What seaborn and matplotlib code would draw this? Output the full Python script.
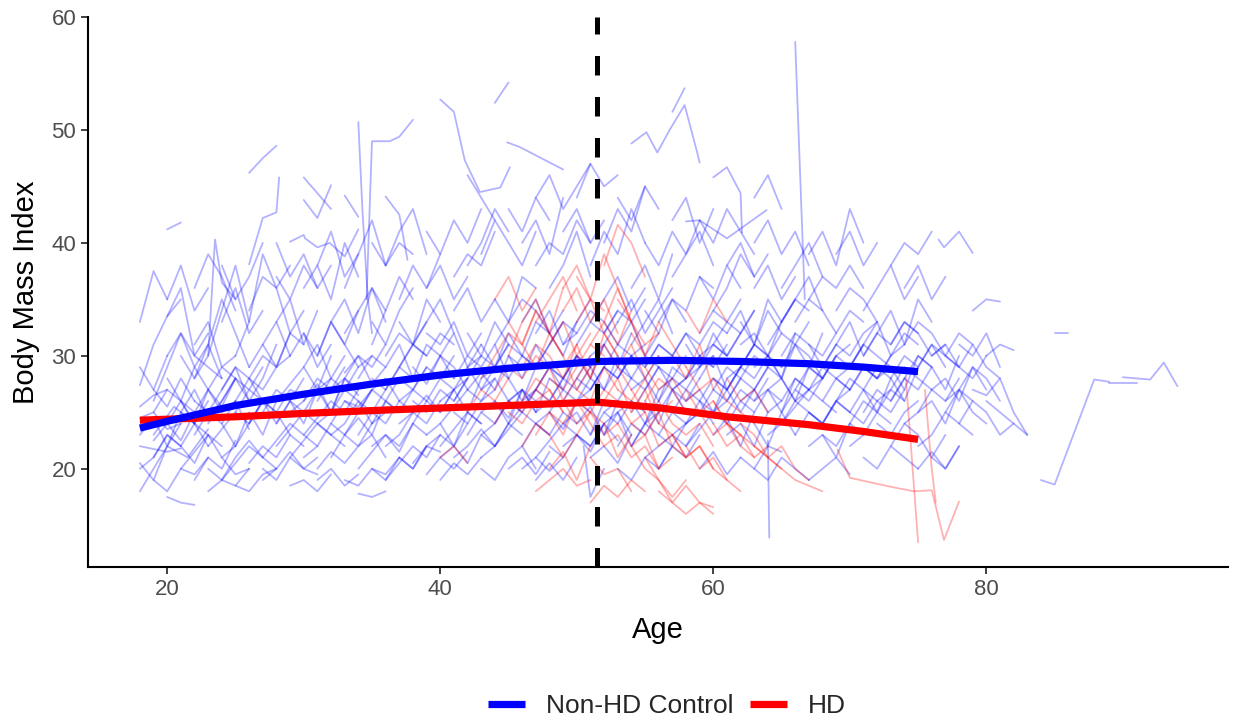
import matplotlib
matplotlib.use("Agg")
import matplotlib.pyplot as plt
from matplotlib.lines import Line2D
import seaborn as sns
import pandas as pd

# ---------------- data ----------------
# each control trajectory: (ages, BMI values)
control_trajectories = [
    ([18, 19, 20, 21], [27.4, 31, 33.5, 35]),
    ([18, 19.5, 21], [18, 21, 24]),
    ([18, 19, 20, 21.5, 23], [20.5, 19, 22, 21, 23.5]),
    ([18, 19, 20, 21], [24.5, 25, 23.5, 24]),
    ([18, 20, 21], [22, 21.5, 21.8]),
    ([19, 20, 21, 22, 24], [26, 29, 32, 30, 28]),
    ([19, 20.5, 22, 23], [23, 25.5, 24, 22]),
    ([20, 21, 22], [17.5, 17, 16.8]),
    ([20, 21, 22, 23], [33.5, 36, 30, 32]),
    ([21, 22, 23, 24, 25], [25, 27, 24.5, 26, 28]),
    ([22, 23, 24, 25], [19, 21, 20, 22.5]),
    ([22, 23, 24, 25, 26], [28, 30, 34, 38, 33]),
    ([23, 23.5, 24, 25], [30, 40.3, 36.5, 35]),
    ([23, 24, 25, 26, 27], [22, 23.5, 25, 24, 26]),
    ([24, 25, 26, 27, 28], [27, 29, 26, 28, 31]),
    ([24, 25, 26], [21, 19.5, 20]),
    ([25, 26, 27, 28, 29], [30, 33, 39, 36, 32]),
    ([25, 26, 27, 28], [18.5, 18, 19.5, 20]),
    ([26, 27, 28], [46.2, 47.5, 48.6]),
    ([26, 27, 28, 28.2], [38.1, 42.2, 42.7, 45.8]),
    ([26, 27, 28, 29, 30], [24, 26, 25, 27, 26.5]),
    ([27, 28, 29, 30, 31], [21, 22.5, 24, 23, 22]),
    ([28, 29, 30, 31], [33, 35, 31, 34]),
    ([28, 29, 30, 31, 32], [26, 27.5, 29, 27, 30]),
    ([29, 30, 31, 32], [18.5, 19, 18, 19.5]),
    ([29, 30, 30.1, 31, 31.9, 33, 34], [40.1, 40.7, 40.4, 39.6, 40, 38.8, 41.2]),
    ([20, 21], [41.2, 41.8]),
    ([19, 20, 21, 22], [22.5, 24, 26, 25]),
    ([21, 22, 23, 24, 25, 26], [30, 28, 31, 35, 32, 29]),
    ([18, 19, 20], [25.5, 26.5, 27]),
    ([30, 31, 32], [45.8, 44.4, 43]),
    ([30, 31, 32], [43.8, 42.2, 45.1]),
    ([33, 34], [44.2, 42.3]),
    ([34, 34.3, 34.7, 35], [50.7, 42.9, 35, 32]),
    ([34.6, 35, 36.3, 37, 38], [35, 49, 49, 49.4, 50.9]),
    ([36, 37, 37.6], [44.1, 42.5, 38.5]),
    ([30, 31, 32, 33, 34], [23, 24.5, 26, 25, 27]),
    ([30, 31, 32, 33], [29, 31, 28, 30]),
    ([31, 32, 33, 34, 35, 36], [20, 21.5, 20.5, 22, 23, 21]),
    ([31, 32, 33, 34], [27, 25, 28, 26.5]),
    ([32, 33, 34, 35, 36], [33, 35, 32, 36, 34]),
    ([32, 33, 34, 35], [24, 26, 25.5, 27]),
    ([33, 34, 35, 36, 37], [19, 18.5, 20, 19.5, 21]),
    ([33, 34, 35, 36], [28.5, 30, 27.5, 29]),
    ([34, 35, 36, 37, 38, 39], [25, 27, 26, 28, 27, 29]),
    ([35, 36, 37, 38], [31, 34, 37, 35]),
    ([35, 36, 37, 38, 39], [22, 23, 21.5, 24, 23]),
    ([36, 37, 38, 39, 40], [27, 29, 28, 31, 30]),
    ([36, 37, 38], [38, 40, 39]),
    ([37, 38, 39, 40, 41], [24, 25, 26.5, 25, 27]),
    ([37, 38, 39, 40], [33, 31, 35, 33]),
    ([38, 39, 40, 41, 42], [20.5, 22, 23, 22, 24]),
    ([38, 39, 40, 41], [29, 27.5, 30, 28]),
    ([39, 40, 41, 42, 43], [26, 28, 27, 29, 30]),
    ([39, 40, 41, 42], [36, 38, 35, 37]),
    ([34, 35, 36], [17.8, 17.5, 18]),
    ([30, 31, 32, 33, 34], [36, 38, 35, 40, 37]),
    ([40, 41, 41.8, 42.9, 44.4, 45.1], [52.7, 51.6, 47.3, 44.5, 44.9, 46.7]),
    ([44, 45], [52.4, 54.2]),
    ([44.9, 45.8, 49], [48.9, 48.5, 46.5]),
    ([40, 41, 42, 43, 44], [24, 25.5, 27, 26, 28]),
    ([40, 41, 42, 43], [30, 32, 29, 31]),
    ([41, 42, 43, 44, 45], [21, 22, 23.5, 22, 24]),
    ([41, 42, 43, 44], [34, 36, 33, 35]),
    ([42, 43, 44, 45, 46], [27, 28.5, 27, 30, 29]),
    ([42, 43, 44, 45], [38, 40, 43, 41]),
    ([43, 44, 45, 46, 47], [25, 26, 24.5, 27, 26]),
    ([43, 44, 45, 46], [31, 29, 32, 30]),
    ([44, 45, 46, 47, 48], [22, 23.5, 25, 24, 23]),
    ([44, 45, 46, 47], [35, 33, 37, 36]),
    ([45, 46, 47, 48, 49], [28, 30, 29, 31, 33]),
    ([45, 46, 47, 48], [20, 21, 19.5, 21.5]),
    ([46, 47, 48, 49, 50], [26, 27, 29, 28, 30]),
    ([46, 47, 48, 49], [40, 42, 39, 44]),
    ([47, 48, 49, 50, 51], [24, 25, 23.5, 26, 25]),
    ([47, 48, 49, 50], [32, 34, 31, 33]),
    ([48, 49, 50, 51, 52], [29, 27, 30, 28, 31]),
    ([48, 49, 50, 51], [36, 38, 41, 37]),
    ([49, 50, 51, 52, 53], [22, 23, 21.5, 24, 22.5]),
    ([49, 50, 51, 52], [26, 28, 27, 29]),
    ([40, 41, 42, 43], [19, 20.5, 19.5, 21]),
    ([42, 43, 44], [46, 44, 42]),
    ([46, 47, 48, 49], [20, 21, 19.8, 21]),
    ([47, 48, 49, 50, 51], [44, 46, 43, 45, 47]),
    ([54, 55.1, 55.9, 56.8, 57.9, 58.8, 59], [48.8, 49.8, 48, 50, 52.2, 48.1, 47.1]),
    ([57, 57.9], [51.6, 53.7]),
    ([50, 51, 52, 53, 54], [28, 30, 31, 29, 32]),
    ([50, 51, 52, 53], [24, 25.5, 23, 26]),
    ([51, 52, 53, 54, 55], [33, 35, 37, 34, 36]),
    ([51, 52, 53, 54], [21, 22, 20.5, 23]),
    ([52, 53, 54, 55, 56], [27, 29, 28, 30, 29]),
    ([52, 53, 54, 55], [40, 43, 41, 45]),
    ([53, 54, 55, 56, 57], [25, 26, 24, 27, 28]),
    ([53, 54, 55, 56], [31, 33, 30, 32]),
    ([54, 55, 56, 57, 58], [22, 24, 23, 25, 24]),
    ([54, 55, 56, 57], [36, 38, 35, 39]),
    ([55, 56, 57, 58, 59], [29, 31, 30, 32, 30]),
    ([55, 56, 57, 58], [26, 24, 27, 25]),
    ([56, 57, 58, 59, 60], [33, 35, 34, 37, 36]),
    ([56, 57, 58, 59], [20, 22, 21, 23]),
    ([57, 58, 59, 60, 61], [27, 28, 30, 29, 31]),
    ([57, 58, 59, 60], [42, 44, 40, 43]),
    ([58, 59, 60, 61, 62], [24, 25, 27, 26, 28]),
    ([58, 59, 60, 61], [31, 29, 32, 30]),
    ([59, 60, 61, 62, 63], [28, 30, 27, 29, 31]),
    ([59, 60, 61, 62], [37, 35, 38, 36]),
    ([50, 51, 52, 53], [44, 47, 45, 46]),
    ([50.5, 51, 52], [22, 17.5, 20]),
    ([52, 53, 54, 55, 56], [23, 25, 22, 24, 26]),
    ([60, 61, 62, 62.1], [45.8, 46.7, 44.4, 40.9]),
    ([58, 59, 61, 63.9], [41.9, 42, 40.4, 42.9]),
    ([66, 66.7], [57.8, 35]),
    ([64, 64.1], [22.5, 13.9]),
    ([60, 61, 62, 63, 64], [27, 29, 28, 30, 29]),
    ([60, 61, 62, 63], [23, 24.5, 22, 25]),
    ([61, 62, 63, 64, 65], [32, 34, 31, 35, 33]),
    ([61, 62, 63, 64], [25, 27, 26, 28]),
    ([62, 63, 64, 65, 66], [29, 31, 30, 28, 32]),
    ([62, 63, 64, 65], [21, 20, 22, 21.5]),
    ([63, 64, 65, 66, 67], [26, 27, 25, 28, 27]),
    ([63, 64, 65, 66], [36, 38, 35, 37]),
    ([64, 65, 66, 67, 68], [30, 28, 31, 29, 32]),
    ([65, 66, 67, 68, 69], [24, 25.5, 27, 26, 25]),
    ([65, 66, 67, 68], [33, 35, 37, 34]),
    ([66, 67, 68, 69, 70], [27, 29, 28, 30, 31]),
    ([67, 68, 69, 70], [22, 23, 21, 24]),
    ([67, 68, 69, 70, 71], [39, 41, 38, 43, 40]),
    ([68, 69, 70, 71, 72], [26, 28, 27, 29, 28]),
    ([69, 70, 71, 72], [31, 33, 30, 32]),
    ([60, 61, 62, 63], [34, 36, 39, 37]),
    ([63, 64, 65], [44, 46, 43]),
    ([70, 71, 72, 73, 74], [24, 26, 25, 27, 26]),
    ([70, 71, 72, 73], [29, 31, 33, 30]),
    ([71, 72, 73, 74, 75], [27, 25, 28, 26, 29]),
    ([72, 73, 74, 75, 76], [32, 34, 31, 35, 33]),
    ([73, 74, 75, 76, 77], [22, 24, 23, 21, 23]),
    ([74, 75, 76, 77, 78], [28, 30, 29, 27, 30]),
    ([75, 76, 77, 78, 79], [25, 26, 24, 27, 26]),
    ([76.5, 76.9, 78, 79], [40.3, 39.6, 41, 39.1]),
    ([77, 78, 79, 80, 81], [30, 29, 31, 29, 28]),
    ([78, 79, 80, 81, 82], [24, 26, 25, 23, 24]),
    ([79, 80, 81], [34, 35, 34.8]),
    ([79, 80, 81, 82, 83], [27, 26.5, 28, 25, 23]),
    ([76, 77, 78], [21, 20, 22]),
    ([85, 86], [32, 32]),
    ([84, 85, 87.9, 89], [19, 18.6, 27.9, 27.7]),
    ([89, 91], [27.6, 27.6]),
    ([90, 92, 93, 94], [28.1, 27.9, 29.4, 27.3]),
    ([80, 81, 82], [30, 31, 30.5]),
    ([74, 75, 76, 77], [36, 38, 35, 37]),
    # dense core
    ([18, 19, 20, 21, 22], [23, 24.5, 22, 25, 24]),
    ([18, 19, 20], [29, 27, 30]),
    ([19, 20, 21, 22, 23], [21, 23, 22, 20.5, 23]),
    ([19, 20, 21, 22], [27, 25.5, 28, 26]),
    ([20, 21, 22, 23, 24, 25], [24, 22.5, 25, 27, 25, 26]),
    ([20, 21, 22, 23], [30, 32, 29, 27]),
    ([21, 22, 23, 24], [20, 21.5, 23, 22]),
    ([21, 22, 23, 24, 25], [26, 24, 27, 25.5, 28]),
    ([22, 23, 24, 25, 26], [23, 25, 24, 26, 23.5]),
    ([22, 23, 24, 25], [31, 33, 29, 30]),
    ([23, 24, 25, 26, 27], [20, 19, 21, 22.5, 21]),
    ([23, 24, 25, 26], [27, 29, 28, 26]),
    ([24, 25, 26, 27, 28], [24, 22, 25, 23, 26]),
    ([24, 25, 26, 27], [33, 36, 32, 34]),
    ([25, 26, 27, 28, 29], [22, 24, 26, 25, 23]),
    ([25, 26, 27, 28, 29], [26, 28, 27, 29, 30]),
    ([26, 27, 28, 29], [29, 31, 33, 30]),
    ([26, 27, 28, 29, 30], [20.5, 22, 21, 23, 22]),
    ([27, 28, 29, 30, 31], [25, 27, 26, 24, 27]),
    ([27, 28, 29, 30], [31, 29, 32, 34]),
    ([28, 29, 30, 31, 32], [22, 23.5, 25, 24, 23]),
    ([28, 29, 30, 31], [37, 35, 38, 36]),
    ([29, 30, 31, 32, 33], [25, 26, 28, 27, 29]),
    ([29, 30, 31, 32], [30, 32, 29, 31]),
    ([30, 31, 32, 33, 34], [21, 22, 24, 23, 25]),
    ([30, 31, 32, 33, 34], [26, 27.5, 25, 28, 27]),
    ([31, 32, 33, 34, 35], [24, 25, 27, 26, 24]),
    ([31, 32, 33, 34], [30, 33, 31, 29]),
    ([32, 33, 34, 35, 36], [21, 23, 22, 24, 25]),
    ([32, 33, 34, 35, 36], [27, 28, 30, 29, 31]),
    ([33, 34, 35, 36, 37], [23, 24.5, 23, 26, 25]),
    ([33, 34, 35, 36], [32, 34, 36, 33]),
    ([34, 35, 36, 37, 38], [20, 21.5, 23, 22, 24]),
    ([34, 35, 36, 37, 38], [28, 30, 29, 31, 28]),
    ([35, 36, 37, 38, 39], [24, 26, 25, 27, 26]),
    ([35, 36, 37, 38], [33, 31, 34, 36]),
    ([36, 37, 38, 39, 40], [22, 23, 25, 24, 26]),
    ([36, 37, 38, 39], [30, 32, 31, 33]),
    ([37, 38, 39, 40, 41], [26, 27, 29, 28, 30]),
    ([37, 38, 39, 40], [21, 20, 22, 21.5]),
    ([38, 39, 40, 41, 42], [24, 26, 25, 27, 28]),
    ([38, 39, 40, 41], [31, 33, 35, 32]),
    ([39, 40, 41, 42, 43], [23, 24, 22, 25, 24]),
    ([39, 40, 41, 42], [28, 30, 29, 27]),
    ([40, 41, 42, 43, 44], [26, 27, 25, 28, 29]),
    ([40, 41, 42, 43], [22, 23.5, 25, 24]),
    ([41, 42, 43, 44, 45], [28, 30, 29, 31, 28]),
    ([41, 42, 43, 44], [25, 24, 26, 27]),
    ([42, 43, 44, 45, 46], [23, 25, 24, 26, 25]),
    ([42, 43, 44, 45], [32, 30, 33, 31]),
    ([43, 44, 45, 46, 47], [27, 29, 28, 26, 29]),
    ([43, 44, 45, 46], [21, 22, 24, 23]),
    ([44, 45, 46, 47, 48], [29, 31, 30, 33, 32]),
    ([44, 45, 46, 47], [26, 24, 27, 25]),
    ([45, 46, 47, 48, 49], [24, 25.5, 27, 26, 28]),
    ([45, 46, 47, 48], [30, 28, 31, 29]),
    ([46, 47, 48, 49, 50], [22, 24, 23, 25, 24]),
    ([46, 47, 48, 49], [33, 35, 32, 34]),
    ([47, 48, 49, 50, 51], [27, 29, 28, 30, 29]),
    ([47, 48, 49, 50], [21, 22.5, 24, 23]),
    ([48, 49, 50, 51, 52], [25, 27, 26, 28, 27]),
    ([48, 49, 50, 51], [32, 30, 33, 35]),
    ([49, 50, 51, 52, 53], [28, 30, 29, 31, 33]),
    ([49, 50, 51, 52], [24, 25, 23, 26]),
    ([50, 51, 52, 53, 54], [26, 27, 29, 28, 30]),
    ([50, 51, 52, 53], [31, 33, 32, 34]),
    ([51, 52, 53, 54, 55], [23, 25, 24, 26, 25]),
    ([51, 52, 53, 54], [29, 27, 30, 28]),
    ([52, 53, 54, 55, 56], [25, 26, 28, 27, 29]),
    ([52, 53, 54, 55], [32, 34, 33, 35]),
    ([53, 54, 55, 56, 57], [28, 30, 29, 31, 30]),
    ([53, 54, 55, 56], [22, 24, 23, 25]),
    ([54, 55, 56, 57, 58], [27, 28, 26, 29, 28]),
    ([54, 55, 56, 57], [31, 33, 35, 32]),
    ([55, 56, 57, 58, 59], [24, 25, 27, 26, 28]),
    ([55, 56, 57, 58], [34, 32, 35, 33]),
    ([56, 57, 58, 59, 60], [26, 28, 27, 29, 30]),
    ([56, 57, 58, 59], [23, 22, 24, 25]),
    ([57, 58, 59, 60, 61], [30, 32, 31, 33, 32]),
    ([57, 58, 59, 60], [25, 27, 26, 24]),
    ([58, 59, 60, 61, 62], [28, 29, 31, 30, 32]),
    ([58, 59, 60, 61], [22, 23.5, 25, 24]),
    ([59, 60, 61, 62, 63], [26, 28, 27, 25, 27]),
    ([59, 60, 61, 62], [32, 34, 33, 35]),
    ([60, 61, 62, 63, 64], [25, 26, 28, 27, 29]),
    ([60, 61, 62, 63], [31, 30, 32, 34]),
    ([61, 62, 63, 64, 65], [27, 29, 28, 30, 29]),
    ([61, 62, 63, 64], [23, 24, 22, 25]),
    ([62, 63, 64, 65, 66], [26, 27, 29, 28, 26]),
    ([62, 63, 64, 65], [33, 31, 34, 32]),
    ([63, 64, 65, 66, 67], [29, 30, 32, 31, 33]),
    ([63, 64, 65, 66], [24, 22, 25, 23]),
    ([64, 65, 66, 67, 68], [27, 28, 26, 29, 28]),
    ([64, 65, 66, 67], [31, 33, 35, 34]),
    ([65, 66, 67, 68, 69], [25, 27, 26, 28, 30]),
    ([65, 66, 67, 68], [29, 31, 30, 28]),
    ([66, 67, 68, 69, 70], [23, 25, 24, 26, 25]),
    ([66, 67, 68, 69], [33, 35, 34, 32]),
    ([67, 68, 69, 70, 71], [27, 28, 30, 29, 31]),
    ([67, 68, 69, 70], [25, 24, 26, 27]),
    ([68, 69, 70, 71, 72], [29, 31, 30, 32, 33]),
    ([68, 69, 70, 71], [23, 22, 24, 23]),
    ([69, 70, 71, 72, 73], [26, 28, 27, 29, 28]),
    ([69, 70, 71, 72], [34, 36, 35, 33]),
    ([70, 71, 72, 73, 74], [27, 29, 28, 30, 31]),
    ([70, 71, 72, 73], [22, 23, 25, 24]),
    ([71, 72, 73, 74, 75], [30, 32, 31, 33, 32]),
    ([71, 72, 73, 74], [25, 27, 26, 28]),
    ([72, 73, 74, 75, 76], [28, 29, 27, 30, 29]),
    ([72, 73, 74, 75], [24, 23, 25, 26]),
    ([73, 74, 75, 76, 77], [31, 33, 32, 30, 31]),
    ([73, 74, 75, 76], [26, 28, 27, 29]),
    ([74, 75, 76, 77, 78], [24, 25, 27, 26, 28]),
    ([75, 76, 77, 78, 79], [29, 31, 30, 32, 31]),
    ([76, 77, 78, 79, 80], [27, 28, 26, 29, 27]),
    ([77, 78, 79, 80, 81], [25, 27, 29, 28, 26]),
    ([78, 79, 80, 81], [31, 30, 32, 29]),
    ([80, 81, 82, 83], [26, 25, 24, 23]),
    ([18, 19, 20, 21], [20, 21, 23, 22]),
    ([19, 20, 21, 22, 23], [25, 27, 26, 24, 26]),
    ([20, 21, 22, 23, 24], [28, 26, 29, 31, 28]),
    ([21, 22, 23, 24, 25], [22, 24, 23, 21, 22]),
    ([22, 23, 24, 25, 26, 27], [26, 25, 27, 29, 28, 26]),
    ([23, 24, 25, 26, 27], [24, 26, 28, 27, 29]),
    ([24, 25, 26, 27, 28], [19, 20.5, 22, 21, 20]),
    ([25, 26, 27, 28, 29, 30], [25, 27, 26, 24, 26, 28]),
    ([26, 27, 28, 29, 30], [28, 30, 29, 32, 31]),
    ([27, 28, 29, 30, 31], [19, 20, 21.5, 20, 21]),
    ([28, 29, 30, 31, 32], [24, 26, 25, 27, 28]),
    ([29, 30, 31, 32, 33], [21, 22.5, 24, 23, 22]),
    ([30, 31, 32, 33, 34], [32, 30, 33, 31, 34]),
    ([31, 32, 33, 34, 35], [26, 28, 27, 29, 30]),
    ([32, 33, 34, 35, 36], [23, 24, 26, 25, 27]),
    ([33, 34, 35, 36, 37], [26, 25, 27, 28, 26]),
    ([34, 35, 36, 37, 38], [23, 25, 24, 26, 25]),
    ([35, 36, 37, 38, 39], [28, 27, 29, 31, 30]),
    ([36, 37, 38, 39, 40], [19, 20.5, 22, 21, 23]),
    ([37, 38, 39, 40, 41], [29, 31, 30, 32, 31]),
    ([38, 39, 40, 41, 42], [26, 25, 27, 26, 28]),
    ([39, 40, 41, 42, 43], [32, 31, 33, 30, 32]),
    ([40, 41, 42, 43, 44], [21, 22, 20.5, 23, 22]),
    ([41, 42, 43, 44, 45], [26, 28, 30, 29, 31]),
    ([42, 43, 44, 45, 46], [29, 27, 28, 26, 27]),
    ([43, 44, 45, 46, 47], [23, 24, 26, 25, 27]),
    ([44, 45, 46, 47, 48], [31, 33, 35, 34, 32]),
    ([45, 46, 47, 48, 49], [26, 27, 25, 28, 27]),
    ([46, 47, 48, 49, 50], [30, 29, 31, 33, 32]),
    ([47, 48, 49, 50, 51], [25, 26, 28, 27, 29]),
    ([48, 49, 50, 51, 52], [22, 21, 23, 22, 24]),
    ([49, 50, 51, 52, 53], [31, 32, 34, 33, 31]),
    ([50, 51, 52, 53, 54], [23, 22, 24, 25, 23]),
    ([51, 52, 53, 54, 55], [27, 29, 28, 30, 31]),
    ([52, 53, 54, 55, 56], [29, 31, 30, 28, 30]),
    ([53, 54, 55, 56, 57], [33, 35, 32, 34, 36]),
    ([54, 55, 56, 57, 58], [25, 27, 29, 28, 30]),
    ([55, 56, 57, 58, 59], [21, 22, 23, 22, 24]),
    ([56, 57, 58, 59, 60], [29, 27, 28, 30, 29]),
    ([57, 58, 59, 60, 61], [23, 24, 26, 25, 27]),
    ([58, 59, 60, 61, 62], [26, 27, 25, 28, 29]),
    ([59, 60, 61, 62, 63], [30, 31, 33, 32, 34]),
    ([60, 61, 62, 63, 64], [28, 27, 29, 31, 30]),
    ([61, 62, 63, 64, 65], [24, 26, 25, 27, 26]),
    ([62, 63, 64, 65, 66], [31, 32, 30, 33, 35]),
    ([63, 64, 65, 66, 67], [27, 25, 26, 28, 27]),
    ([64, 65, 66, 67, 68], [23, 24, 26, 25, 24]),
    ([65, 66, 67, 68, 69], [30, 32, 31, 29, 31]),
    ([66, 67, 68, 69, 70], [26, 27, 29, 28, 27]),
    ([67, 68, 69, 70, 71], [31, 30, 32, 34, 33]),
    ([68, 69, 70, 71, 72], [24, 26, 25, 27, 26]),
    ([69, 70, 71, 72, 73], [28, 29, 31, 30, 29]),
    ([70, 71, 72, 73, 74], [25, 24, 26, 25, 27]),
    ([71, 72, 73, 74, 75], [29, 28, 30, 32, 31]),
    ([72, 73, 74, 75, 76], [26, 27, 29, 28, 27]),
    ([73, 74, 75, 76, 77], [28, 30, 29, 31, 29]),
    ([74, 75, 76, 77, 78], [31, 33, 32, 30, 29]),
    ([75, 76, 77, 78, 79], [22, 23, 25, 24, 23]),
    ([76, 77, 78, 79, 80], [30, 31, 29, 28, 30]),
    ([77, 78, 79, 80], [26, 27, 25, 24]),
    # upper band
    ([18, 19, 20], [33, 37.5, 35]),
    ([20, 21, 22, 23], [35, 38, 34, 36]),
    ([22, 23, 24, 25], [36, 39, 37, 34]),
    ([24, 25, 26, 27], [38, 35, 37, 40]),
    ([26, 27, 28, 29], [34, 37, 36, 38]),
    ([28, 29, 30, 31, 32], [40, 37, 39, 36, 38]),
    ([31, 32, 33, 34], [38, 41, 37, 39]),
    ([33, 34, 35, 36], [36, 39, 42, 38]),
    ([35, 36, 37, 38, 39], [40, 38, 41, 43, 39]),
    ([37, 38, 39, 40], [35, 38, 36, 39]),
    ([39, 40, 41, 42, 43], [41, 39, 42, 40, 43]),
    ([41, 42, 43, 44], [37, 39, 38, 41]),
    ([43, 44, 45, 46, 47], [39, 42, 40, 38, 41]),
    ([45, 46, 47, 48], [43, 41, 44, 42]),
    ([47, 48, 49, 50, 51], [38, 40, 39, 42, 40]),
    ([49, 50, 51, 52], [41, 43, 40, 42]),
    ([51, 52, 53, 54, 55], [38, 41, 39, 43, 40]),
    ([53, 54, 55, 56], [44, 42, 45, 43]),
    ([55, 56, 57, 58, 59], [40, 38, 41, 39, 42]),
    ([57, 58, 59, 60], [37, 39, 41, 38]),
    ([59, 60, 61, 62, 63], [42, 40, 43, 41, 39]),
    ([61, 62, 63, 64], [38, 40, 37, 39]),
    ([63, 64, 65, 66, 67], [40, 42, 39, 41, 38]),
    ([65, 66, 67, 68], [36, 38, 40, 37]),
    ([67, 68, 69, 70, 71], [35, 37, 36, 38, 36]),
    ([69, 70, 71, 72], [39, 41, 38, 40]),
    ([71, 72, 73, 74, 75], [34, 36, 38, 35, 37]),
    ([73, 74, 75, 76], [38, 40, 39, 41]),
    # lower band
    ([19, 20, 21, 22, 23], [19, 18, 20, 19.5, 21]),
    ([23, 24, 25, 26], [18, 19, 18.5, 20]),
    ([27, 28, 29, 30, 31], [20, 19, 21, 20, 19.5]),
    ([31, 32, 33, 34], [19, 20, 18.5, 19.5]),
    ([35, 36, 37, 38, 39], [20, 19, 21, 20, 22]),
    ([39, 40, 41, 42], [19.5, 21, 20, 21.5]),
    ([43, 44, 45, 46, 47], [20, 19, 21, 22, 20]),
    ([47, 48, 49, 50], [19, 20.5, 19, 21]),
    ([53, 54, 55, 56, 57], [20, 19, 21, 20, 22]),
    ([59, 60, 61, 62], [20, 21.5, 19.5, 21]),
    ([63, 64, 65, 66, 67], [20, 19, 21, 20, 19]),
    ([67, 68, 69, 70], [19, 20, 21, 19.5]),
    ([71, 72, 73, 74, 75], [21, 20, 22, 21, 20]),
    ([75, 76, 77, 78], [20, 21.5, 20, 22]),
]

# each HD trajectory: (ages, BMI values)
hd_trajectories = [
    ([43, 44, 45, 46, 47], [28, 30, 32, 31, 34]),
    ([44, 45, 46, 47, 48], [24, 26, 25, 27, 26]),
    ([45, 46, 47, 48, 49], [30, 33, 35, 32, 36]),
    ([46, 47, 48, 49, 50], [22, 24, 23, 21, 23]),
    ([47, 48, 49, 50, 51], [27, 29, 26, 28, 30]),
    ([47, 48, 49, 50], [33, 35, 37, 34]),
    ([48, 49, 50, 51, 52], [25, 23, 26, 24, 22]),
    ([48, 49, 50, 51], [20, 21.5, 19, 22]),
    ([49, 50, 51, 52, 53], [29, 31, 28, 32, 30]),
    ([49, 50, 51, 52], [36, 38, 35, 34]),
    ([50, 51, 52, 53, 54], [23, 25, 24, 21, 23]),
    ([50, 51, 52, 53], [27, 26, 29, 27]),
    ([51, 52, 53, 54, 55], [31, 33, 36, 33, 30]),
    ([51, 52, 53, 54], [21, 19.5, 20, 18]),
    ([52, 53, 54, 55, 56], [26, 28, 25, 27, 24]),
    ([52, 53, 54, 55], [38, 41.6, 40, 37]),
    ([53, 54, 55, 56, 57], [24, 22, 23, 20, 21]),
    ([53, 54, 55, 56], [29, 31, 28, 30]),
    ([54, 55, 56, 57, 58], [22, 20, 19, 17.5, 19]),
    ([55, 56, 57, 58, 59, 60], [21, 19, 17, 16, 17, 16.6]),
    ([55, 56, 57, 58], [26, 28, 27, 25]),
    ([56, 57, 58, 59, 60], [24, 23, 21, 22, 20]),
    ([57, 58, 59, 60], [30, 28, 31, 27]),
    ([58, 59, 60, 61, 62], [22, 20, 21, 19, 18]),
    ([44, 45, 46, 47], [35, 37, 34, 36]),
    ([42, 43, 44, 45], [25, 27, 26, 28]),
    ([40, 41, 42], [21, 22, 20.5]),
    ([59, 60, 61, 62, 63], [25, 23, 24, 22, 21]),
    ([60, 61, 62, 63, 64, 65], [26, 24, 23, 22, 21, 20]),
    ([62, 63, 64, 65, 66, 67, 68], [24, 23, 21, 20, 19, 18.5, 18]),
    ([69.1, 70, 73, 74.7, 76, 76.9, 78], [21.7, 19.2, 18.4, 18, 18.1, 13.7, 17.1]),
    ([74.1, 75], [28.1, 13.5]),
    ([75.5, 76, 76.3], [27, 20, 17]),
    ([58, 59, 60, 61], [34, 32, 35, 33]),
    ([46, 47, 48, 49, 50, 51], [31, 29, 32, 30, 27, 29]),
    ([52, 53, 54], [33, 31, 34]),
    ([61, 62, 63, 64], [28, 26, 27, 25]),
    ([54, 55, 56, 57], [27, 25, 22, 23]),
    ([50, 51, 52, 53, 54], [37, 35, 39, 36, 33]),
    ([44, 45, 46, 47, 48], [27, 29, 28, 30, 29]),
    ([45, 46, 47, 48, 49], [25, 24, 26, 27, 25]),
    ([46, 47, 48, 49, 50], [29, 31, 30, 28, 31]),
    ([47, 48, 49, 50, 51], [23, 25, 24, 26, 25]),
    ([48, 49, 50, 51, 52], [28, 27, 29, 31, 30]),
    ([49, 50, 51, 52, 53], [26, 24, 25, 23, 24]),
    ([50, 51, 52, 53, 54], [30, 28, 31, 29, 27]),
    ([51, 52, 53, 54, 55], [25, 27, 26, 24, 25]),
    ([52, 53, 54, 55, 56], [22, 23, 21, 22, 20]),
    ([53, 54, 55, 56, 57], [27, 26, 28, 25, 26]),
    ([54, 55, 56, 57, 58], [24, 23, 25, 22, 21]),
    ([55, 56, 57, 58, 59], [29, 27, 28, 26, 27]),
    ([56, 57, 58, 59, 60], [26, 24, 23, 24, 22]),
    ([57, 58, 59, 60, 61], [23, 21, 22, 20, 19]),
    ([58, 59, 60, 61, 62], [27, 25, 26, 24, 23]),
    ([60, 61, 62, 63, 64], [24, 22, 23, 21, 22]),
    ([46, 47, 48, 49], [26, 28, 27, 25]),
    ([50, 51, 52, 53], [33, 35, 32, 30]),
    ([53, 54, 55, 56], [35, 33, 31, 32]),
    ([48, 49, 50, 51], [31, 33, 30, 32]),
    ([47, 48, 49, 50, 51], [18, 19, 20, 18.5, 19]),
    ([51, 52, 53, 54, 55], [17, 18.5, 17.5, 19, 18]),
    ([56, 57, 58, 59, 60], [18, 17, 18.5, 17, 16]),
    ([45, 46, 47, 48, 49], [33, 31, 34, 32, 30]),
    ([49, 50, 51, 52, 53], [34, 36, 33, 35, 32]),
    ([54, 55, 56, 57, 58], [32, 30, 33, 31, 29]),
    ([58, 59, 60, 61, 62, 63], [29, 27, 28, 26, 25, 24]),
    ([63, 64, 65, 66, 67], [22, 21, 22, 20, 19]),
]

# fitted group curves
control_fit_age = [18, 20, 25, 30, 35, 40, 45, 51.5, 57, 62, 67, 71, 75]
control_fit_bmi = [23.6, 24.2, 25.6, 26.6, 27.5, 28.3, 28.9, 29.5, 29.6, 29.5, 29.3, 29.0, 28.6]
hd_fit_age = [18, 25, 30, 36, 45, 51.5, 56, 61, 67, 71, 75]
hd_fit_bmi = [24.3, 24.6, 24.9, 25.2, 25.6, 25.9, 25.4, 24.6, 23.9, 23.3, 22.6]

onset_age = 51.5
group_labels = ["Non-HD Control", "HD"]
x_ticks = [20, 40, 60, 80]
y_ticks = [20, 30, 40, 50, 60]

# ---------------- build long tables ----------------
rows = []
for gi, (group, trajs) in enumerate(zip(group_labels, [control_trajectories, hd_trajectories])):
    for si, (ages, bmis) in enumerate(trajs):
        for a, b in zip(ages, bmis):
            rows.append({"subject": f"{gi}_{si}", "group": group, "age": a, "bmi": b})
df = pd.DataFrame(rows)

fit = pd.concat([
    pd.DataFrame({"group": group_labels[0], "age": control_fit_age, "bmi": control_fit_bmi}),
    pd.DataFrame({"group": group_labels[1], "age": hd_fit_age, "bmi": hd_fit_bmi}),
])

palette = {"Non-HD Control": "#0000FF", "HD": "#FF0000"}

# ---------------- plot ----------------
sns.set_theme(style="ticks")
plt.rcParams["font.family"] = ["Liberation Sans", "DejaVu Sans"]

fig = plt.figure(figsize=(12.35, 7.22), dpi=100)
ax = fig.add_axes([88 / 1235, 1 - 567 / 722, (1228 - 88) / 1235, (567 - 17) / 722])

sns.lineplot(data=df, x="age", y="bmi", hue="group", units="subject", estimator=None,
             sort=False, palette=palette, alpha=0.3, linewidth=1.3, legend=False, ax=ax)
sns.lineplot(data=fit, x="age", y="bmi", hue="group", hue_order=["HD", "Non-HD Control"],
             estimator=None, sort=True, palette=palette, linewidth=5.2, legend=False,
             ax=ax, solid_capstyle="butt")

ax.axvline(onset_age, color="black", linewidth=3.6, dashes=(3.9, 4.3), zorder=5,
           dash_capstyle="butt")

ax.set_xlim(14.2, 97.7)
ax.set_ylim(11.3, 60)
ax.set_xticks(x_ticks)
ax.set_yticks(y_ticks)
ax.set_xlabel("Age", fontsize=21, color="black", labelpad=12)
ax.set_ylabel("Body Mass Index", fontsize=21, color="black", labelpad=8)
ax.tick_params(axis="both", labelsize=16, labelcolor="#4D4D4D", color="#333333",
               length=5, width=1.3)
for side in ["top", "right"]:
    ax.spines[side].set_visible(False)
for side in ["left", "bottom"]:
    ax.spines[side].set_linewidth(1.5)
    ax.spines[side].set_color("black")

handles = [Line2D([0], [0], color=palette[g], linewidth=5.2, solid_capstyle="butt")
           for g in group_labels]
fig.legend(handles, group_labels, loc="center", bbox_to_anchor=(667 / 1235, 1 - 706 / 722),
           ncol=2, frameon=False, fontsize=19, handlelength=1.4, columnspacing=0.6,
           handletextpad=0.8)

fig.savefig("out.png", dpi=100)
